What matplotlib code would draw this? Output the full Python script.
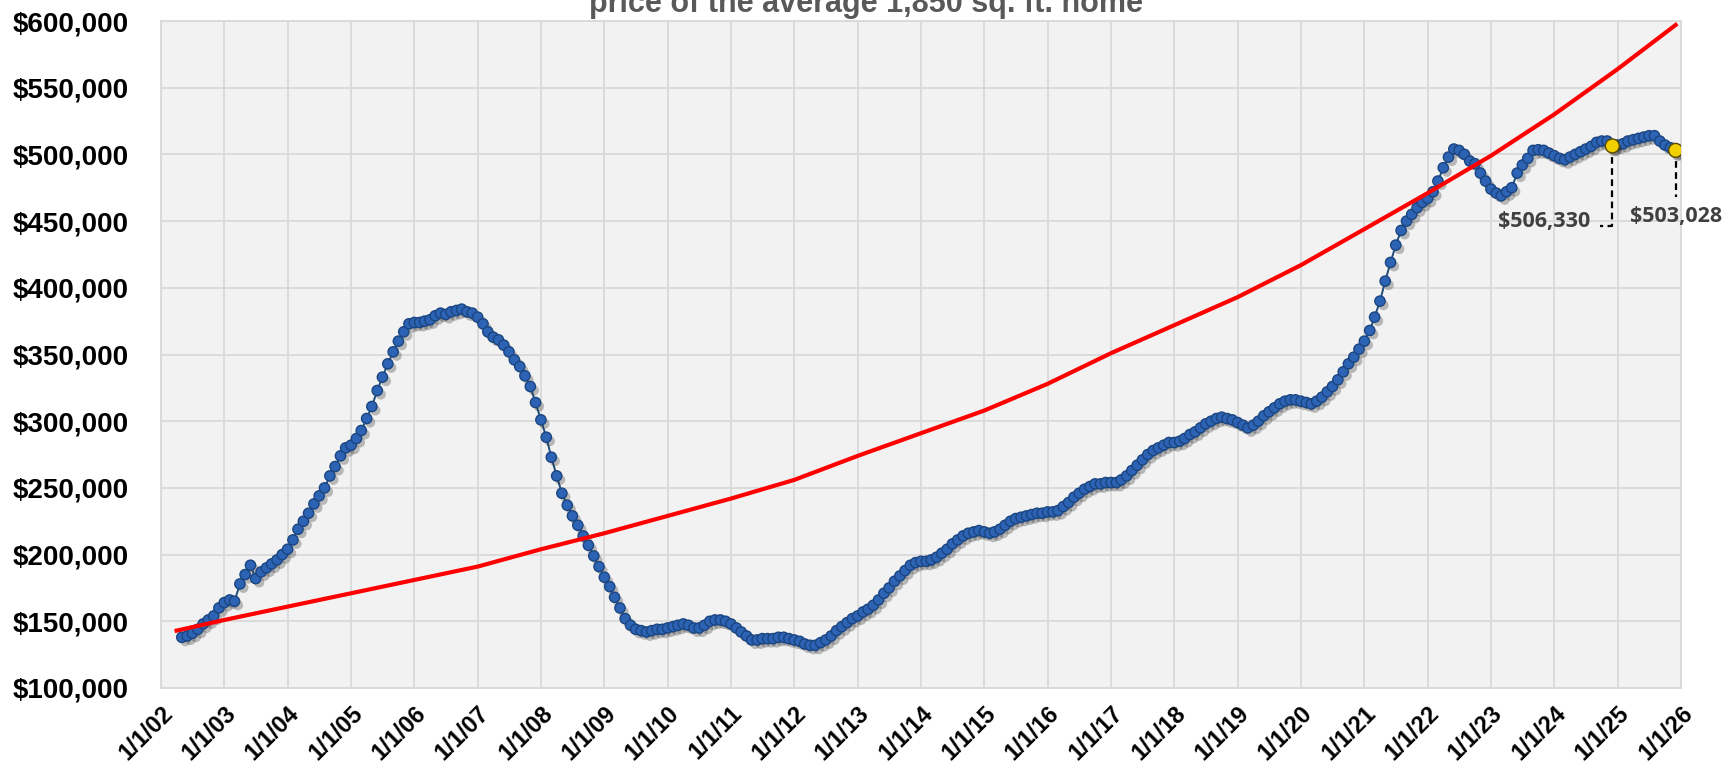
import datetime
import matplotlib
matplotlib.use("Agg")
import matplotlib.pyplot as plt
import matplotlib.patheffects as pe
import matplotlib.transforms as mtransforms
import pandas as pd

# monthly price of the average home, in $1000s, May 2002 .. Dec 2025
price_k = [
    138, 139, 141, 144, 148, 151, 154, 160,                      # 2002 (May-Dec)
    164, 166, 165, 178, 185, 192, 182, 187, 190, 193, 196, 200,  # 2003
    204, 211, 219, 225, 231, 238, 244, 250, 259, 266, 274, 280,  # 2004
    282, 287, 293, 302, 311, 323, 333, 343, 352, 360, 367, 373,  # 2005
    374, 374, 375, 376, 379, 381, 380, 382, 383, 384, 382, 381,  # 2006
    378, 373, 367, 363, 361, 357, 352, 346, 341, 334, 326, 314,  # 2007
    301, 288, 273, 259, 246, 237, 229, 222, 214, 207, 199, 191,  # 2008
    183, 176, 168, 160, 152, 147, 144, 143, 142, 143, 144, 144,  # 2009
    145, 146, 147, 148, 147, 145, 145, 147, 150, 151, 151, 150,  # 2010
    148, 145, 142, 139, 136, 136, 137, 137, 137, 138, 138, 137,  # 2011
    136, 135, 133, 132, 132, 134, 136, 139, 143, 146, 149, 152,  # 2012
    154, 157, 159, 162, 166, 171, 175, 180, 184, 188, 192, 194,  # 2013
    195, 195, 196, 198, 201, 204, 208, 211, 214, 216, 217, 218,  # 2014
    217, 216, 217, 219, 222, 225, 227, 228, 229, 230, 231, 231,  # 2015
    232, 232, 233, 236, 239, 243, 246, 249, 251, 253, 253, 254,  # 2016
    254, 254, 256, 259, 263, 267, 271, 275, 278, 280, 282, 284,  # 2017
    284, 285, 287, 290, 292, 295, 298, 300, 302, 303, 302, 301,  # 2018
    299, 297, 295, 297, 300, 304, 307, 310, 313, 315, 316, 316,  # 2019
    315, 314, 313, 315, 318, 322, 326, 331, 337, 343, 348, 354,  # 2020
    360, 368, 378, 390, 405, 419, 432, 443, 450, 455, 460, 464,  # 2021
    467, 472, 480, 490, 498, 504, 503, 500, 495, 493, 486, 480,  # 2022
    474, 471, 469, 472, 475, 486, 492, 497, 503, 503.5, 503, 501,  # 2023
    499, 497, 496, 498, 500, 502, 504, 506, 509, 510, 510, 506.33,  # 2024
    507, 508, 510, 511, 512, 513, 514, 514, 510, 507, 505, 503.028,  # 2025
]
price_dates = pd.date_range("2002-05-01", "2025-12-01", freq="MS").to_pydatetime()

# red trend line, in $1000s
trend_dates = [datetime.datetime(2002, 4, 1)] + \
    [datetime.datetime(y, 1, 1) for y in range(2003, 2026)] + [datetime.datetime(2025, 12, 1)]
trend_k = [143, 151, 161, 171, 181, 191, 204, 216, 229, 242, 256, 274, 291,
           308, 328, 351, 372, 393, 417, 444, 471, 499, 530, 564, 597]

# highlighted points
hi_dates = [datetime.datetime(2024, 12, 1), datetime.datetime(2025, 12, 1)]
hi_values = [506330, 503028]
hi_labels = ["$506,330", "$503,028"]

y_ticks = [100000, 150000, 200000, 250000, 300000, 350000,
           400000, 450000, 500000, 550000, 600000]
y_labels = ["$100,000", "$150,000", "$200,000", "$250,000", "$300,000", "$350,000",
            "$400,000", "$450,000", "$500,000", "$550,000", "$600,000"]
x_labels = ["1/1/02", "1/1/03", "1/1/04", "1/1/05", "1/1/06", "1/1/07", "1/1/08",
            "1/1/09", "1/1/10", "1/1/11", "1/1/12", "1/1/13", "1/1/14", "1/1/15",
            "1/1/16", "1/1/17", "1/1/18", "1/1/19", "1/1/20", "1/1/21", "1/1/22",
            "1/1/23", "1/1/24", "1/1/25", "1/1/26"]
x_ticks = [datetime.datetime(2002 + i, 1, 1) for i in range(len(x_labels))]

plt.rcParams["font.family"] = ["Liberation Sans", "DejaVu Sans"]

fig = plt.figure(figsize=(17.32, 7.65), dpi=100)
ax = fig.add_axes([161 / 1732, 1 - 688 / 765, (1681 - 161) / 1732, (688 - 21) / 765])
ax.set_facecolor("#F2F2F2")

price = [v * 1000 for v in price_k]
trend = [v * 1000 for v in trend_k]

# blue series: thin line + markers with drop shadow
ax.plot(price_dates, price, "-", color="#1F4E79", lw=1.4, zorder=3)
ax.plot(price_dates, price, "o", ms=7.4, mfc="#2C63B4", mec="#1B4580", mew=1.0, zorder=4,
        path_effects=[pe.SimplePatchShadow(offset=(2.5, -2.8), shadow_rgbFace="#303030", alpha=0.3),
                      pe.Normal()])

ax.plot(trend_dates, trend, "-", color="#FF0000", lw=3.0, zorder=5)

# leaders and labels
ax.plot([hi_dates[0], hi_dates[0], datetime.datetime(2024, 9, 20)],
        [hi_values[0], 446100, 446100], color="black", lw=1.6, ls=(0, (3, 2)), zorder=6)
ax.plot([hi_dates[1], hi_dates[1]], [hi_values[1], 467900],
        color="black", lw=1.6, ls=(0, (3, 2)), zorder=6)
ax.plot(hi_dates, hi_values, "o", ms=10, mfc="#F2D000", mec="#5A4A00", mew=1, zorder=7,
        path_effects=[pe.SimplePatchShadow(offset=(2, -2.5), shadow_rgbFace="#303030", alpha=0.4),
                      pe.Normal()])
ax.text(datetime.datetime(2024, 7, 25), 449500, hi_labels[0], ha="right", va="center",
        fontsize=15.5, fontweight="bold", color="#404040", family=["Open Sans", "DejaVu Sans"])
ax.text(hi_dates[1], 453600, hi_labels[1], ha="center", va="center",
        fontsize=15.5, fontweight="bold", color="#404040", family=["Open Sans", "DejaVu Sans"],
        clip_on=False)

ax.set_xlim(datetime.datetime(2002, 1, 1), datetime.datetime(2026, 1, 1))
ax.set_ylim(100000, 600000)
ax.set_xticks(x_ticks)
ax.set_xticklabels(x_labels, rotation=45, ha="right", va="center", rotation_mode="anchor",
                   fontsize=17, fontweight="bold")
ax.set_yticks(y_ticks)
ax.set_yticklabels(y_labels, fontsize=20, fontweight="bold", ha="left")
ax.tick_params(axis="y", length=0, pad=148 * 72 / 100)
ax.tick_params(axis="x", length=0, pad=16)
shift = mtransforms.ScaledTranslation(8 / 100, 0, fig.dpi_scale_trans)
for lbl in ax.get_xticklabels():
    lbl.set_transform(lbl.get_transform() + shift)

ax.grid(True, color="#D9D9D9", lw=1.3)
ax.set_axisbelow(True)
for s in ax.spines.values():
    s.set_color("#D9D9D9")
    s.set_linewidth(1.3)

fig.text(866 / 1732, 1 - 12.0 / 765, "price of the average 1,850 sq. ft. home",
         ha="center", va="baseline", fontsize=22, fontweight="bold", color="#595959")

fig.savefig("out.png", dpi=100)
